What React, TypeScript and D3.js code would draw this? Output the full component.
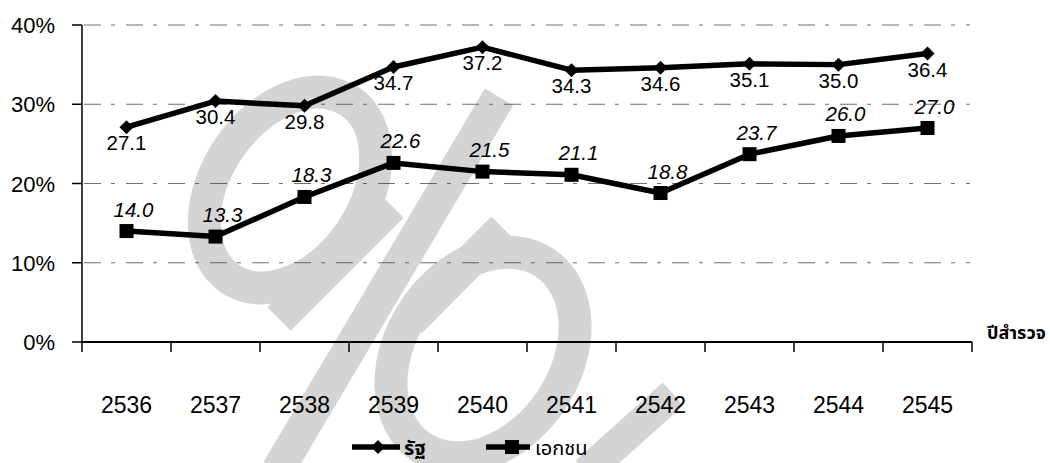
import React from "react";
import * as d3 from "d3";

const years = ["2536", "2537", "2538", "2539", "2540", "2541", "2542", "2543", "2544", "2545"];
const publicSector = [27.1, 30.4, 29.8, 34.7, 37.2, 34.3, 34.6, 35.1, 35.0, 36.4];
const privateSector = [14.0, 13.3, 18.3, 22.6, 21.5, 21.1, 18.8, 23.7, 26.0, 27.0];
const yTicks = [0, 10, 20, 30, 40];
const seriesNames = ["รัฐ", "เอกชน"];
const axisTitle = "ปีสำรวจ";

const W = 1050;
const H = 463;
const M = { left: 82, right: 972, top: 25, bottom: 342 };
const NUM_FONT = "'Liberation Sans', Arial, Helvetica, sans-serif";
const THAI_FONT = "'Noto Sans Thai', 'Noto Sans', Tahoma, sans-serif";
const WM = "#d4d4d4";

export default function App() {
  const x = d3.scaleBand<string>().domain(years).range([M.left, M.right]).padding(0);
  const y = d3.scaleLinear().domain([0, 40]).range([M.bottom, M.top]);
  const cx = (i: number) => (x(years[i]) as number) + x.bandwidth() / 2;
  const line = d3
    .line<number>()
    .x((_, i) => cx(i))
    .y((d) => y(d));

  const diamond = (px: number, py: number, r: number) =>
    `M${px},${py - r}L${px + r},${py}L${px},${py + r}L${px - r},${py}Z`;

  const boundaries = years.map((yr) => x(yr) as number).concat([M.right]);

  return (
    <svg
      width={W}
      height={H}
      style={{ position: "absolute", left: 0, top: 0, background: "#fff" }}
    >
      {/* watermark */}
      <g fill="none" stroke={WM} strokeWidth={33}>
        <ellipse cx={290} cy={190} rx={107} ry={74} transform="rotate(-56 290 190)" />
        <line x1={279} y1={319} x2={392} y2={206} />
        <line x1={499} y1={97} x2={278} y2={470} />
        <ellipse cx={483} cy={355} rx={111} ry={82} transform="rotate(-56 483 355)" />
        <line x1={503} y1={228} x2={410} y2={322} />
        <line x1={673} y1={394} x2={586} y2={472} strokeWidth={31} />
      </g>

      {/* grid lines */}
      {yTicks
        .filter((t) => t > 0)
        .map((t) => (
          <line
            key={"g" + t}
            x1={M.left + 2}
            x2={970}
            y1={y(t)}
            y2={y(t)}
            stroke="#333"
            strokeWidth={1}
            strokeDasharray="17 10 4 11"
            opacity={0.7}
          />
        ))}

      {/* y axis */}
      <line x1={M.left} x2={M.left} y1={M.top} y2={M.bottom} stroke="#000" strokeWidth={1.5} />
      {yTicks.map((t) => (
        <g key={"yt" + t}>
          <line x1={M.left - 10} x2={M.left} y1={y(t)} y2={y(t)} stroke="#000" strokeWidth={1.5} />
          <text
            x={55}
            y={y(t) + 8}
            textAnchor="end"
            fontFamily={NUM_FONT}
            fontSize={22}
            fill="#000"
          >
            {t}%
          </text>
        </g>
      ))}

      {/* x axis */}
      <line x1={M.left} x2={M.right} y1={M.bottom} y2={M.bottom} stroke="#000" strokeWidth={2} />
      {boundaries.map((bx, i) => (
        <line
          key={"xt" + i}
          x1={bx}
          x2={bx}
          y1={M.bottom}
          y2={M.bottom + 10}
          stroke="#000"
          strokeWidth={1.5}
        />
      ))}
      {years.map((yr, i) => (
        <text
          key={"xl" + yr}
          x={cx(i)}
          y={413}
          textAnchor="middle"
          fontFamily={NUM_FONT}
          fontSize={23}
          fill="#000"
        >
          {yr}
        </text>
      ))}
      <text x={987} y={339} fontFamily={THAI_FONT} fontSize={18} fontWeight="bold" fill="#000">
        {axisTitle}
      </text>

      {/* public series */}
      <path d={line(publicSector) || ""} fill="none" stroke="#000" strokeWidth={5.5} strokeLinejoin="round" />
      {publicSector.map((v, i) => (
        <path key={"pd" + i} d={diamond(cx(i), y(v), 7)} fill="#000" />
      ))}
      {publicSector.map((v, i) => (
        <text
          key={"pl" + i}
          x={cx(i)}
          y={y(v) + 23}
          textAnchor="middle"
          fontFamily={NUM_FONT}
          fontSize={20.5}
          fill="#000"
        >
          {v.toFixed(1)}
        </text>
      ))}

      {/* private series */}
      <path d={line(privateSector) || ""} fill="none" stroke="#000" strokeWidth={5.5} strokeLinejoin="round" />
      {privateSector.map((v, i) => (
        <rect key={"ps" + i} x={cx(i) - 7} y={y(v) - 7} width={14} height={14} fill="#000" />
      ))}
      {privateSector.map((v, i) => (
        <text
          key={"ql" + i}
          x={cx(i) + 7}
          y={y(v) - 14.5}
          textAnchor="middle"
          fontFamily={NUM_FONT}
          fontSize={20.5}
          fontStyle="italic"
          fill="#000"
        >
          {v.toFixed(1)}
        </text>
      ))}

      {/* legend */}
      <g>
        <line x1={352} x2={400} y1={447} y2={447} stroke="#000" strokeWidth={5.5} />
        <path d={diamond(378, 447, 7)} fill="#000" />
        <text x={404} y={455} fontFamily={THAI_FONT} fontSize={20} fontWeight="bold" fill="#000">
          {seriesNames[0]}
        </text>
        <line x1={486} x2={530} y1={447} y2={447} stroke="#000" strokeWidth={5.5} />
        <rect x={505} y={440} width={14} height={14} fill="#000" />
        <text x={535} y={455} fontFamily={THAI_FONT} fontSize={20} fill="#000">
          {seriesNames[1]}
        </text>
      </g>
    </svg>
  );
}
